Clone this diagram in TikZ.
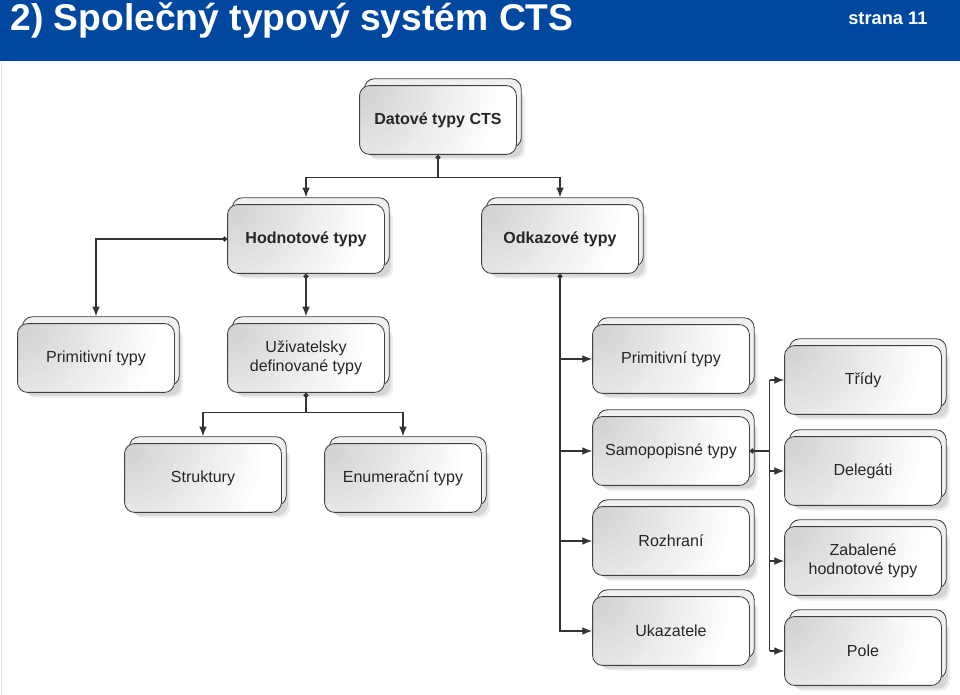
\documentclass[tikz,border=0pt]{standalone}
\usepackage{fontspec}
\setmainfont{Liberation Sans}
\usetikzlibrary{arrows.meta}
\definecolor{titlebgcolor}{RGB}{0,71,160}
\colorlet{titlefgcolor}{white}
\colorlet{linecolor}{black!80}
\tikzset{
        typbox/.style={draw=black!75, line width=0.6pt, rounded corners=0.25cm,
                minimum width=3.92cm, minimum height=1.72cm, align=center,
                font=\fontsize{11.4}{13.4}\selectfont, text=black!85,
                preaction={fill=black!7, draw=none, transform canvas={shift={(0.22cm,-0.13cm)}}},
                preaction={fill=black!16, draw=none, transform canvas={shift={(0.16cm,-0.08cm)}}},
                preaction={fill=black!6, draw=black!75, line width=0.6pt,
                        transform canvas={shift={(0.12cm,0.17cm)}}},
                fill=white,
                path picture={
                        \foreach \i in {18,...,1}{
                                \pgfmathtruncatemacro\odst{19-\i}
                                \fill[black!\odst] (path picture bounding box.north west) circle (\i*0.19cm);
                        }
                }},
        hlavnibox/.style={typbox, font=\fontsize{11.4}{13.4}\selectfont\bfseries},
        conn/.style={draw=linecolor, line width=0.9pt, -{Latex[length=7pt,width=5.5pt]}},
        tecka/.style={draw=linecolor, line width=0.9pt,
                {Circle[length=3.6pt]}-{Latex[length=7pt,width=5.5pt]}},
        vedeni/.style={draw=linecolor, line width=0.9pt},
}

\begin{document}
\begin{tikzpicture}[x=0.025cm, y=0.025cm]
        \fill[white] (0,0) rectangle (960,-695);
        \useasboundingbox (0,0) rectangle (960,-695);
        \fill[titlebgcolor] (0,0) rectangle (960,-61);
        \draw[black!12, line width=0.8pt] (1.5,-63) -- (1.5,-695);

        \node (T) [anchor=base west, inner sep=0pt, text=titlefgcolor]
                at (10,-31) {\fontsize{26.5}{30}\selectfont\bfseries 2) Společný typový systém CTS};
        \node (S) [anchor=base west, inner sep=0pt, text=titlefgcolor]
                at (848,-25) {\fontsize{13}{15}\selectfont\bfseries strana 11};

        % hlavni uroven
        \node (dat) [hlavnibox] at (438,-120) {Datové typy CTS};
        \node (hod) [hlavnibox] at (306,-239) {Hodnotové typy};
        \node (odk) [hlavnibox] at (560,-239) {Odkazové typy};

        % hodnotove typy
        \node (priml) [typbox] at (96,-358) {Primitivní typy};
        \node (uziv) [typbox] at (306,-358) {Uživatelsky\\definované typy};
        \node (strk) [typbox] at (203,-478) {Struktury};
        \node (enum) [typbox] at (403,-478) {Enumerační typy};

        % odkazove typy
        \node (primr) [typbox] at (671,-359) {Primitivní typy};
        \node (samo) [typbox] at (671,-451) {Samopopisné typy};
        \node (rozh) [typbox] at (671,-541) {Rozhraní};
        \node (ukaz) [typbox] at (671,-631) {Ukazatele};

        \node (tridy) [typbox] at (863,-380) {Třídy};
        \node (deleg) [typbox] at (863,-471) {Delegáti};
        \node (zabal) [typbox] at (863,-561) {Zabalené\\hodnotové typy};
        \node (pole) [typbox] at (863,-651) {Pole};

        \coordinate (rozc) at ([xshift=0.5cm]samo.east);

        \draw[tecka] (dat.south) -- ++(0,-23) -| ([yshift=0.17cm]hod.north);
        \draw[conn] (dat.south) ++(0,-23) -| ([yshift=0.17cm]odk.north);
        \draw[tecka] (hod.west) -| ([yshift=0.17cm]priml.north);
        \draw[tecka] (hod.south) -- ([yshift=0.17cm]uziv.north);
        \draw[tecka] (uziv.south) -- ++(0,-20) -| ([yshift=0.17cm]strk.north);
        \draw[conn] (uziv.south) ++(0,-20) -| ([yshift=0.17cm]enum.north);

        \draw[tecka] (odk.south) |- (ukaz.west);
        \foreach \n in {primr,samo,rozh}
                \draw[conn] (odk.south |- \n.west) -- (\n.west);

        \draw[vedeni, {Circle[length=3.6pt]}-] (samo.east) -- (rozc);
        \draw[vedeni] (rozc |- tridy.west) -- (rozc |- pole.west);
        \foreach \n in {tridy,deleg,zabal,pole}
                \draw[conn] (rozc |- \n.west) -- (\n.west);
\end{tikzpicture}
\end{document}
